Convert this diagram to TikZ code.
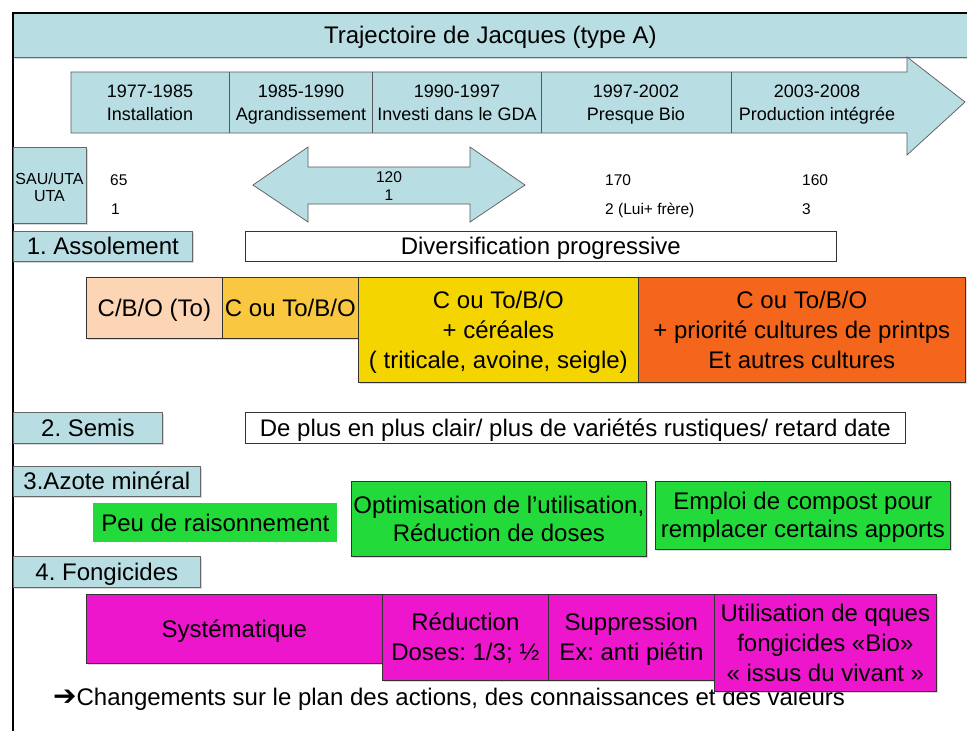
\documentclass[tikz,border=0pt]{standalone}
\usepackage{fontspec}
\usepackage{graphicx}
\setmainfont{Liberation Sans}
\newfontfamily\dejavu{DejaVu Sans}
\usetikzlibrary{shadows}
\frenchspacing
\definecolor{lblue}{HTML}{B8DEE3}
\definecolor{peach}{HTML}{FCD5B5}
\definecolor{gold}{HTML}{FAC840}
\definecolor{yel}{HTML}{F5D500}
\definecolor{orng}{HTML}{F4661B}
\definecolor{grn}{HTML}{22DB3A}
\definecolor{mag}{HTML}{EE16CC}
\newcommand\Lb{\rule[-5.2pt]{0pt}{27.6pt}}
\newcommand\Lm{\rule[-4.2pt]{0pt}{21.3pt}}
\newcommand\Ls{\rule[-3.4pt]{0pt}{17.9pt}}
\newcommand\Lt{\rule[-3.4pt]{0pt}{15.2pt}}
\begin{document}
\begin{tikzpicture}[x=1pt,y=-1pt,
  big/.style={font=\fontsize{24}{30}\selectfont},
  mid/.style={font=\fontsize{18}{21}\selectfont},
  small/.style={font=\fontsize{15.5}{18}\selectfont, inner sep=0pt},
  shade/.style={drop shadow={shadow xshift=1.5pt,shadow yshift=-1.5pt,opacity=0.3}},
  plainbox/.style={draw=black!80, line width=0.7pt, anchor=north west, inner sep=0pt,
    align=center, big},
  box/.style={plainbox, shade},
  lbox/.style={box, fill=lblue, draw=black!60},
  wbox/.style={plainbox, fill=white},
  shapeline/.style={draw=black!65, line width=0.7pt, fill=lblue},
]
\useasboundingbox (0,0) rectangle (967,731);
\fill[white] (0,0) rectangle (967,731);

% title
\node[lbox, minimum width=954pt, minimum height=44pt] (title) at (13,13) {\Lb Trajectoire de Jacques (type A)};
\draw[line width=1.3pt] (13,731) -- (13,13) -- (967,13);

% timeline arrow
\draw[shapeline] (71,72) -- (907,72) -- (907,57) -- (965,102) -- (907,155) -- (907,133) -- (71,133) -- cycle;
\foreach \xx in {229,372,541,731} \draw[draw=black!65, line width=0.7pt] (\xx,72) -- (\xx,133);
\node[mid, align=center, inner sep=0pt] (p1) at (150,102.5) {\Lm 1977-1985\\\Lm Installation};
\node[mid, align=center, inner sep=0pt] (p2) at (301,102.5) {\Lm 1985-1990\\\Lm Agrandissement};
\node[mid, align=center, inner sep=0pt] (p3) at (457,102.5) {\Lm 1990-1997\\\Lm Investi dans le GDA};
\node[mid, align=center, inner sep=0pt] (p4) at (636,102.5) {\Lm 1997-2002\\\Lm Presque Bio};
\node[mid, align=center, inner sep=0pt] (p5) at (817,102.5) {\Lm 2003-2008\\\Lm Production intégrée};

% SAU / UTA
\node[lbox, minimum width=73pt, minimum height=76pt] (sau) at (13,147) {};
\node[align=center, inner sep=0pt, font=\fontsize{16}{17}\selectfont] (sautxt) at (49.5,188.5)
  {\Lt SAU/UTA\\\Lt UTA};

% double arrow
\draw[shapeline] (253,185) -- (308,147) -- (308,167) -- (470,167) -- (470,147) -- (525,185)
  -- (470,222) -- (470,204) -- (308,204) -- (308,222) -- cycle;

\node[small, anchor=west] (n65) at (110,180) {\Ls 65};
\node[small, anchor=west] (n1a) at (111,209) {\Ls 1};
\node[small] (n120) at (389,177) {\Ls 120};
\node[small] (n1b) at (389,195) {\Ls 1};
\node[small, anchor=west] (n170) at (605,180) {\Ls 170};
\node[small, anchor=west] (n2) at (605,209) {\Ls 2 (Lui+ frère)};
\node[small, anchor=west] (n160) at (802,180) {\Ls 160};
\node[small, anchor=west] (n3) at (802,209) {\Ls 3};

% 1. Assolement
\node[lbox, minimum width=179pt, minimum height=30pt] (asso) at (13,231) {\Lb 1. Assolement};
\node[wbox, minimum width=591pt, minimum height=30pt] (div) at (245,231) {\Lb Diversification progressive};

\node[box, fill=peach, minimum width=136pt, minimum height=61pt] (c1) at (86,277) {\Lb C/B/O (To)};
\node[box, fill=gold, minimum width=136pt, minimum height=61pt] (c2) at (222,277) {\Lb C ou To/B/O};
\node[box, fill=yel, minimum width=280pt, minimum height=105pt] (c3) at (358,277)
  {\Lb C ou To/B/O\\\Lb + céréales\\\Lb ( triticale, avoine, seigle)};
\node[box, fill=orng, minimum width=327pt, minimum height=105pt] (c4) at (638,277)
  {\Lb C ou To/B/O\\\Lb + priorité cultures de printps\\\Lb Et autres cultures};

% 2. Semis
\node[lbox, minimum width=149pt, minimum height=31pt] (semis) at (13,412) {\Lb 2. Semis};
\node[wbox, minimum width=660pt, minimum height=31pt] (sem) at (245,412)
  {\Lb De plus en plus clair/ plus de variétés rustiques/ retard date};

% 3. Azote
\node[lbox, minimum width=187pt, minimum height=30pt] (azote) at (13,466) {\Lb 3.Azote minéral};
\node[plainbox, draw=none, fill=grn, minimum width=244pt, minimum height=39pt] (g1) at (93,503) {\Lb Peu de raisonnement};
\node[box, fill=grn, minimum width=295pt, minimum height=75pt, font=\fontsize{24}{28}\selectfont] (g2) at (351,481)
  {\Lb Optimisation de l’utilisation,\\\Lb Réduction de doses};
\node[box, fill=grn, minimum width=295pt, minimum height=68pt, font=\fontsize{24}{28}\selectfont] (g3) at (655,481)
  {\Lb Emploi de compost pour\\\Lb remplacer certains apports};

% 4. Fongicides
\node[lbox, minimum width=187pt, minimum height=31pt] (fong) at (13,556) {\Lb 4. Fongicides};

\node[big, anchor=west, inner sep=0pt] (chg) at (53,697)
  {\Lb{\dejavu\fontsize{28}{30}\selectfont ➔}Changements sur le plan des actions, des connaissances et des valeurs};

\node[box, fill=mag, minimum width=296pt, minimum height=69pt] (m1) at (86,594) {\Lb Systématique};
\node[box, fill=mag, minimum width=166pt, minimum height=86pt] (m2) at (382,594) {\Lb Réduction\\\Lb Doses: 1/3; ½};
\node[box, fill=mag, minimum width=166pt, minimum height=86pt] (m3) at (548,594) {\Lb Suppression\\\Lb Ex: anti piétin};
\node[box, fill=mag, minimum width=222pt, minimum height=97pt] (m4) at (714,594)
  {\Lb Utilisation de qques\\\Lb fongicides «Bio»\\\Lb « issus du vivant »};
\end{tikzpicture}
\end{document}
